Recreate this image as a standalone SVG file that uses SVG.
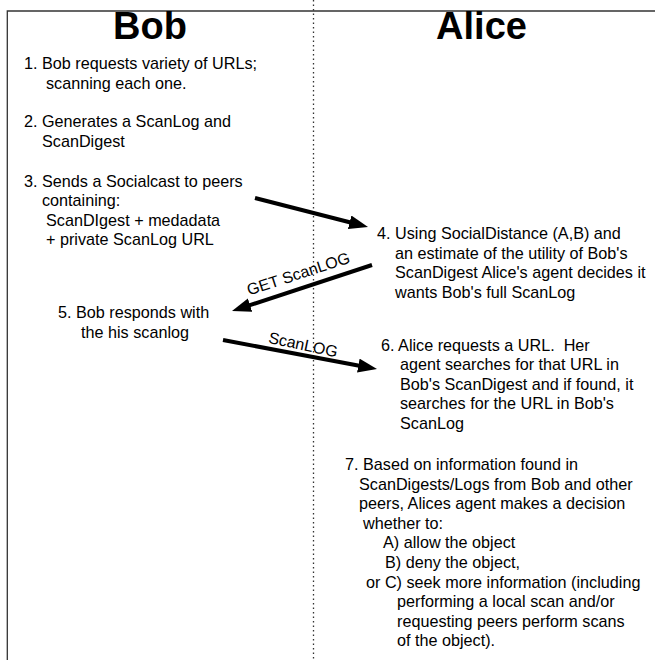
<svg xmlns="http://www.w3.org/2000/svg" width="655" height="660" viewBox="0 0 655 660">
<style>
  text { font-family: "Liberation Sans", Arial, Helvetica, sans-serif; font-size: 16.2px; fill: #000; }
  .title { font-size: 38px; font-weight: bold; text-anchor: middle; }
  .frame { stroke: #333; stroke-width: 1.3; fill: none; }
  .divider { stroke: #333; stroke-width: 1.3; stroke-dasharray: 1.5 3; fill: none; }
  .arrow { stroke: #000; stroke-width: 4; fill: none; marker-end: url(#head); }
  .lbl { text-anchor: middle; font-size: 16px; }
  .pre { white-space: pre; }
</style>
<defs>
  <marker id="head" markerUnits="userSpaceOnUse" markerWidth="20" markerHeight="16" refX="1" refY="7" orient="auto">
    <path d="M0,0 L19,7 L0,14 z" fill="#000"/>
  </marker>
</defs>
<rect width="655" height="660" fill="#fff"/>
<g id="frame">
  <path class="frame" d="M7.3,660 L7.3,11 L655,11"/>
  <path class="divider" d="M313.5,0 L313.5,660"/>
</g>
<g id="bob-title"><text class="title" x="150" y="39">Bob</text></g>
<g id="alice-title"><text class="title" x="481.5" y="39">Alice</text></g>
<g id="step1">
  <text x="24" y="69">1. Bob requests variety of URLs;</text>
  <text x="46" y="88.5">scanning each one.</text>
</g>
<g id="step2">
  <text x="24" y="127">2. Generates a ScanLog and</text>
  <text x="42" y="146.5">ScanDigest</text>
</g>
<g id="step3">
  <text x="24" y="186.5">3. Sends a Socialcast to peers</text>
  <text x="42" y="206">containing:</text>
  <text x="46" y="225.5">ScanDIgest + medadata</text>
  <text x="46" y="245">+ private ScanLog URL</text>
</g>
<g id="step4">
  <text x="377" y="239">4. Using SocialDistance (A,B) and</text>
  <text x="395" y="258.5">an estimate of the utility of Bob's</text>
  <text x="395" y="278">ScanDigest Alice's agent decides it</text>
  <text x="395" y="297.5">wants Bob's full ScanLog</text>
</g>
<g id="step5">
  <text x="58" y="318">5. Bob responds with</text>
  <text x="81" y="337.5">the his scanlog</text>
</g>
<g id="step6">
  <text class="pre" x="381" y="350.5">6. Alice requests a URL.  Her</text>
  <text x="400" y="370">agent searches for that URL in</text>
  <text x="400" y="389.5">Bob's ScanDigest and if found, it</text>
  <text x="400" y="409">searches for the URL in Bob's</text>
  <text x="400" y="428.5">ScanLog</text>
</g>
<g id="step7">
  <text x="345" y="470">7. Based on information found in</text>
  <text x="359" y="489.6">ScanDigests/Logs from Bob and other</text>
  <text x="359" y="509.2">peers, Alices agent makes a decision</text>
  <text x="363" y="528.8">whether to:</text>
  <text x="383" y="548.4">A) allow the object</text>
  <text x="385" y="568">B) deny the object,</text>
  <text x="366" y="587.6">or C) seek more information (including</text>
  <text x="397" y="607.2">performing a local scan and/or</text>
  <text x="397" y="626.8">requesting peers perform scans</text>
  <text x="397" y="646.4">of the object).</text>
</g>
<g id="connectors">
  <line class="arrow" x1="255" y1="198" x2="350.6" y2="222.5"/>
  <line class="arrow" x1="372" y1="265" x2="249.1" y2="305.4"/>
  <text class="lbl" transform="translate(300,279) rotate(-18)">GET ScanLOG</text>
  <line class="arrow" x1="223" y1="340" x2="359.3" y2="365.7"/>
  <text class="lbl" transform="translate(302,350) rotate(12)">ScanLOG</text>
</g>
</svg>
